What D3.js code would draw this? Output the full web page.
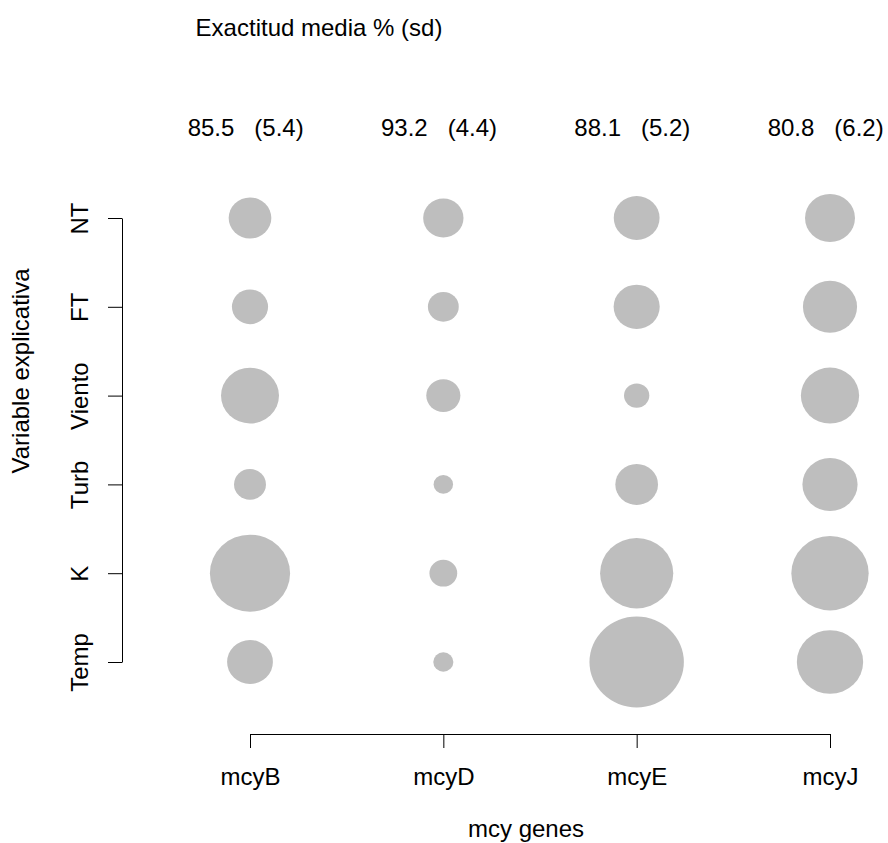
<!DOCTYPE html>
<html>
<head>
<meta charset="utf-8">
<script src="https://cdn.jsdelivr.net/npm/d3@7"></script>
<style>
  body { margin: 0; background: #fff; }
  svg text { font-family: "Liberation Sans", Arial, sans-serif; fill: #000; }
</style>
</head>
<body>
<script>
// data
const genes = ['mcyB', 'mcyD', 'mcyE', 'mcyJ']
const vars = ['NT', 'FT', 'Viento', 'Turb', 'K', 'Temp']
const meanAcc = [85.5, 93.2, 88.1, 80.8]
const sdAcc = [5.4, 4.4, 5.2, 6.2]
// relative importance (max = 100), rows follow vars
const impB = [45.2, 38.3, 61.4, 33.8, 84.9, 48.5]
const impD = [42.7, 32.7, 36.1, 20.6, 29.4, 21.3]
const impE = [48.5, 48.8, 26.8, 45.2, 77.5, 100]
const impJ = [52.9, 57.3, 61.7, 58.4, 81.9, 70.2]

const imp = { mcyB: impB, mcyD: impD, mcyE: impE, mcyJ: impJ }

const W = 888, H = 843
const fs = 24

const svg = d3.select('body').append('svg')
    .attr('width', W)
    .attr('height', H)

const x = d3.scalePoint().domain(genes).range([250, 830])
const y = d3.scalePoint().domain(vars).range([218, 662])
const r = d3.scaleLinear().domain([0, 100]).range([0, 45.4])
const stretch = 1.04

const cells = []
genes.forEach(g => {
    vars.forEach((v, i) => cells.push({ gene: g, v, val: imp[g][i] }))
})

svg.append('g')
    .selectAll('ellipse')
    .data(cells)
    .join('ellipse')
    .attr('cx', d => x(d.gene))
    .attr('cy', d => y(d.v))
    .attr('rx', d => r(d.val) * stretch)
    .attr('ry', d => r(d.val))
    .attr('fill', '#bebebe')

// x axis
const gx = svg.append('g')
    .attr('transform', 'translate(0,734)')
    .call(d3.axisBottom(x).tickSize(14).tickSizeOuter(0))
gx.selectAll('text')
    .attr('y', 51).attr('dy', 0)
    .style('font-size', fs + 'px')
    .style('font-family', null)

// y axis
const gy = svg.append('g')
    .attr('transform', 'translate(122,0)')
    .call(d3.axisLeft(y).tickSize(14).tickSizeOuter(0))
gy.selectAll('text')
    .attr('transform', 'rotate(-90)')
    .attr('x', 0).attr('y', -34).attr('dy', 0)
    .attr('text-anchor', 'middle')
    .style('font-size', fs + 'px')
    .style('font-family', null)

svg.selectAll('.domain, .tick line').attr('stroke', '#000').attr('stroke-width', 1)
svg.selectAll('.tick text').attr('fill', '#000')

// labels
svg.append('text')
    .attr('x', 526).attr('y', 837)
    .attr('text-anchor', 'middle')
    .style('font-size', fs + 'px')
    .text('mcy genes')

svg.append('text')
    .attr('transform', 'translate(29,371) rotate(-90)')
    .attr('text-anchor', 'middle')
    .style('font-size', fs + 'px')
    .text('Variable explicativa')

svg.append('text')
    .attr('x', 319).attr('y', 36)
    .attr('text-anchor', 'middle')
    .style('font-size', fs + 'px')
    .text('Exactitud media % (sd)')

const accG = svg.append('g')
accG.selectAll('text.mean')
    .data(genes)
    .join('text')
    .attr('class', 'mean')
    .attr('x', (d, i) => x(d) - 39)
    .attr('y', 136)
    .attr('text-anchor', 'middle')
    .style('font-size', fs + 'px')
    .text((d, i) => meanAcc[i].toFixed(1))

accG.selectAll('text.sd')
    .data(genes)
    .join('text')
    .attr('class', 'sd')
    .attr('x', (d, i) => x(d) + 29)
    .attr('y', 136)
    .attr('text-anchor', 'middle')
    .style('font-size', fs + 'px')
    .text((d, i) => '(' + sdAcc[i].toFixed(1) + ')')
</script>
</body>
</html>
